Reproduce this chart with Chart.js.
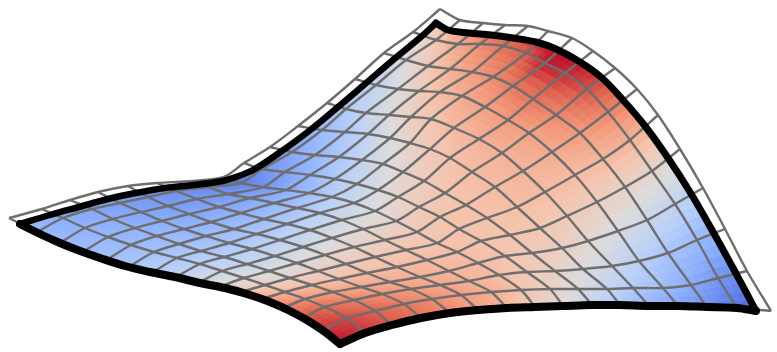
<!DOCTYPE html>
<html><head><meta charset="utf-8">
<style>html,body{margin:0;padding:0;background:#fff}canvas{display:block}</style>
<script src="https://cdn.jsdelivr.net/npm/chart.js@4"></script>
</head><body><canvas id="c" width="777" height="352"></canvas>
<script>
// wireframe nodes, one list per column i, index = row j
const gridX=[
[9,37,60,83,107,130,153,176,198,219,241,262,283,303,323,340],
[42,63,85,108,131,154,177,200,222,244,265,285,305,325,347,365],
[70,92,113,135,157,179,201,224,247,269,290,312,333,354,375,392],
[98,120,141,162,184,206,229,252,275,297,318,339,361,382,404,421],
[128,148,168,189,211,234,257,280,303,325,346,367,390,411,432,450],
[157,176,197,219,241,264,287,310,332,354,375,397,420,440,461,478],
[193,208,228,250,274,297,320,342,363,385,406,427,449,469,491,507],
[224,241,263,286,309,332,354,375,396,417,437,457,478,499,521,535],
[244,262,285,310,335,357,378,398,419,440,459,481,505,527,550,563],
[270,292,315,339,362,383,403,424,445,466,487,510,532,555,578,592],
[298,322,345,368,390,410,430,450,472,495,517,540,562,583,607,620],
[327,346,366,389,411,431,454,479,502,523,545,567,588,612,633,649],
[355,376,398,419,440,462,485,508,529,552,575,597,618,639,663,678],
[384,406,428,450,472,493,513,533,556,580,603,625,647,668,691,707],
[413,436,458,480,503,526,545,565,587,608,630,652,675,697,718,737],
[440,460,483,505,528,548,572,593,615,637,658,680,703,725,747,771]];
const gridY=[
[218,232,243,252,260,266,272,277,283,287,292,299,308,318,331,342],
[209,218,228,237,245,252,258,264,271,278,285,292,299,307,318,333],
[200,209,219,228,236,244,251,257,264,271,278,285,292,300,311,325],
[192,203,212,221,229,236,243,249,256,263,271,279,287,294,304,318],
[186,197,206,214,222,229,234,240,247,255,264,273,282,289,299,313],
[183,191,199,207,213,219,224,230,238,247,257,267,277,285,295,310],
[181,187,194,198,203,208,213,220,229,240,250,260,271,281,292,308],
[177,183,187,190,193,197,203,211,221,232,243,252,263,275,290,307],
[163,169,172,175,179,184,190,197,207,217,229,241,256,272,289,306],
[147,152,155,157,160,164,172,181,193,205,218,235,253,271,289,305],
[126,130,132,134,138,143,149,158,172,187,207,228,248,269,289,305],
[103,109,113,115,117,119,128,139,153,171,192,216,241,266,288,306],
[79,85,89,91,92,96,107,120,133,152,175,202,231,261,288,306],
[53,60,66,69,72,77,86,99,115,133,159,187,220,253,285,307],
[32,40,44,44,46,53,63,73,89,112,140,171,204,240,278,308],
[9,20,23,25,26,31,38,51,68,89,115,149,188,229,271,311]];
// surface value (0..1 on the colour scale) at each node, one list per row j, index = column i
const surfaceValue=[
[.28,.25,.22,.2,.18,.15,.12,.08,.12,.17,.22,.28,.35,.42,.5,.58],
[.28,.25,.22,.2,.18,.16,.14,.12,.17,.23,.3,.35,.42,.5,.6,.72],
[.29,.26,.24,.22,.2,.19,.18,.17,.22,.28,.35,.42,.5,.6,.7,.82],
[.3,.28,.26,.24,.23,.22,.22,.23,.28,.34,.42,.5,.58,.68,.78,.9],
[.31,.29,.28,.27,.26,.26,.27,.3,.36,.42,.5,.57,.65,.74,.84,.95],
[.34,.32,.31,.3,.3,.3,.33,.37,.42,.48,.55,.62,.7,.78,.88,1],
[.37,.35,.34,.33,.34,.36,.39,.44,.49,.54,.6,.66,.73,.82,.97,1],
[.41,.39,.38,.38,.39,.42,.46,.5,.55,.59,.63,.68,.75,.83,.95,1],
[.47,.44,.43,.44,.46,.49,.53,.56,.59,.62,.65,.68,.73,.79,.9,.93],
[.54,.5,.49,.5,.53,.55,.58,.6,.62,.63,.65,.67,.7,.75,.8,.82],
[.62,.58,.56,.57,.59,.6,.62,.62,.63,.63,.64,.65,.65,.66,.68,.68],
[.72,.67,.64,.64,.65,.65,.65,.64,.63,.62,.61,.6,.58,.56,.54,.52],
[.82,.77,.73,.71,.7,.69,.67,.65,.62,.6,.57,.53,.48,.44,.41,.38],
[.9,.85,.81,.77,.74,.71,.68,.64,.6,.56,.5,.44,.38,.33,.29,.25],
[.94,.91,.87,.82,.78,.74,.69,.63,.56,.49,.42,.35,.3,.24,.18,.14],
[.98,.94,.89,.84,.79,.73,.66,.58,.5,.42,.34,.27,.21,.16,.1,.03]];
// thick outline, one pair of lists per edge of the surface
const edgeAD_X=[20,40,60,80,100,125,150,175,200,225,250,270,290,310,325,340];
const edgeAD_Y=[224,234,243,251,258,266,272,277,283,288,295,302,311,322,332,344];
const edgeDC_X=[340,365,392,421,450,478,507,535,563,592,620,649,678,707,737,756];
const edgeDC_Y=[344,333,325,318,313,310,308,307,306,305,305,306,306,307,308,311];
const edgeCB_X=[756,733,712,690,668,645,623,602,580,556,536,513,491,469,448,436];
const edgeCB_Y=[311,268,230,192,158,126,100,78,62,49,42,38,35,33,30,23];
const edgeBA_X=[436,422,393,365,338,309,279,253,233,223,194,165,136,108,79,50,20];
const edgeBA_Y=[23,36,60,84,107,131,153,170,178,181,185,188,193,199,207,215,224];
const colourStops=[[59,76,192],[98,130,234],[141,176,254],[184,208,249],[221,220,220],[245,196,173],[244,154,123],[222,97,77],[180,4,38]];

const SUB=4;
function colourAt(v){
  const t=Math.max(0,Math.min(1,v))*(colourStops.length-1),k=Math.min(colourStops.length-2,Math.floor(t)),f=t-k;
  const a=colourStops[k],b=colourStops[k+1];
  return 'rgb('+[0,1,2].map(n=>Math.round(a[n]+(b[n]-a[n])*f)).join(',')+')';
}
function blend(tl,tr,bl,br,u,w){return (tl*(1-u)+tr*u)*(1-w)+(bl*(1-u)+br*u)*w;}
const datasets=[];
const N=gridX.length-1;
for(let i=0;i<N;i++)for(let j=0;j<N;j++)for(let a=0;a<SUB;a++)for(let b=0;b<SUB;b++){
  const pt=(u,w)=>({x:blend(gridX[i][j],gridX[i+1][j],gridX[i][j+1],gridX[i+1][j+1],u,w),
                    y:blend(gridY[i][j],gridY[i+1][j],gridY[i][j+1],gridY[i+1][j+1],u,w)});
  const u0=a/SUB,u1=(a+1)/SUB,w0=b/SUB,w1=(b+1)/SUB;
  const v=blend(surfaceValue[j][i],surfaceValue[j][i+1],surfaceValue[j+1][i],surfaceValue[j+1][i+1],(u0+u1)/2,(w0+w1)/2);
  const c=colourAt(v);
  datasets.push({data:[pt(u0,w0),pt(u1,w0),pt(u1,w1),pt(u0,w1),pt(u0,w0)],showLine:true,fill:'shape',backgroundColor:c,borderColor:c,borderWidth:1,pointRadius:0,order:5});
}
// white band between the outer wire edge and the outline
const mask=[];
for(let i=0;i<=N;i++)mask.push({x:gridX[i][0],y:gridY[i][0]});
for(let j=1;j<=N;j++)mask.push({x:gridX[N][j],y:gridY[N][j]});
edgeCB_X.forEach((x,k)=>mask.push({x,y:edgeCB_Y[k]}));
edgeBA_X.forEach((x,k)=>mask.push({x,y:edgeBA_Y[k]}));
mask.push({x:gridX[0][0],y:gridY[0][0]});
datasets.push({data:mask,showLine:true,fill:'shape',backgroundColor:'#fff',borderColor:'#fff',borderWidth:1,pointRadius:0,order:4});
// wireframe
const wire={showLine:true,fill:false,borderColor:'#6e6e6e',borderWidth:2.4,pointRadius:0,tension:.3,order:3};
for(let i=0;i<=N;i++)datasets.push(Object.assign({data:gridX[i].map((x,j)=>({x,y:gridY[i][j]}))},wire));
for(let j=0;j<=N;j++)datasets.push(Object.assign({data:gridX.map((col,i)=>({x:col[j],y:gridY[i][j]}))},wire));
// outline
function edge(xs,ys,w){return {data:xs.map((x,k)=>({x,y:ys[k]})),showLine:true,fill:false,borderColor:'#000',borderWidth:w,borderCapStyle:'round',pointRadius:0,tension:.35,order:1};}
datasets.push(edge(edgeAD_X,edgeAD_Y,8),edge(edgeDC_X,edgeDC_Y,8),edge(edgeCB_X,edgeCB_Y,7),edge(edgeBA_X,edgeBA_Y,6.5));

new Chart(document.getElementById('c'),{type:'scatter',data:{datasets},options:{
  responsive:false,animation:false,events:[],
  layout:{padding:0},
  plugins:{legend:{display:false},tooltip:{enabled:false},title:{display:false}},
  scales:{x:{type:'linear',min:0,max:777,display:false},y:{type:'linear',min:0,max:352,reverse:true,display:false}}
}});
</script></body></html>
